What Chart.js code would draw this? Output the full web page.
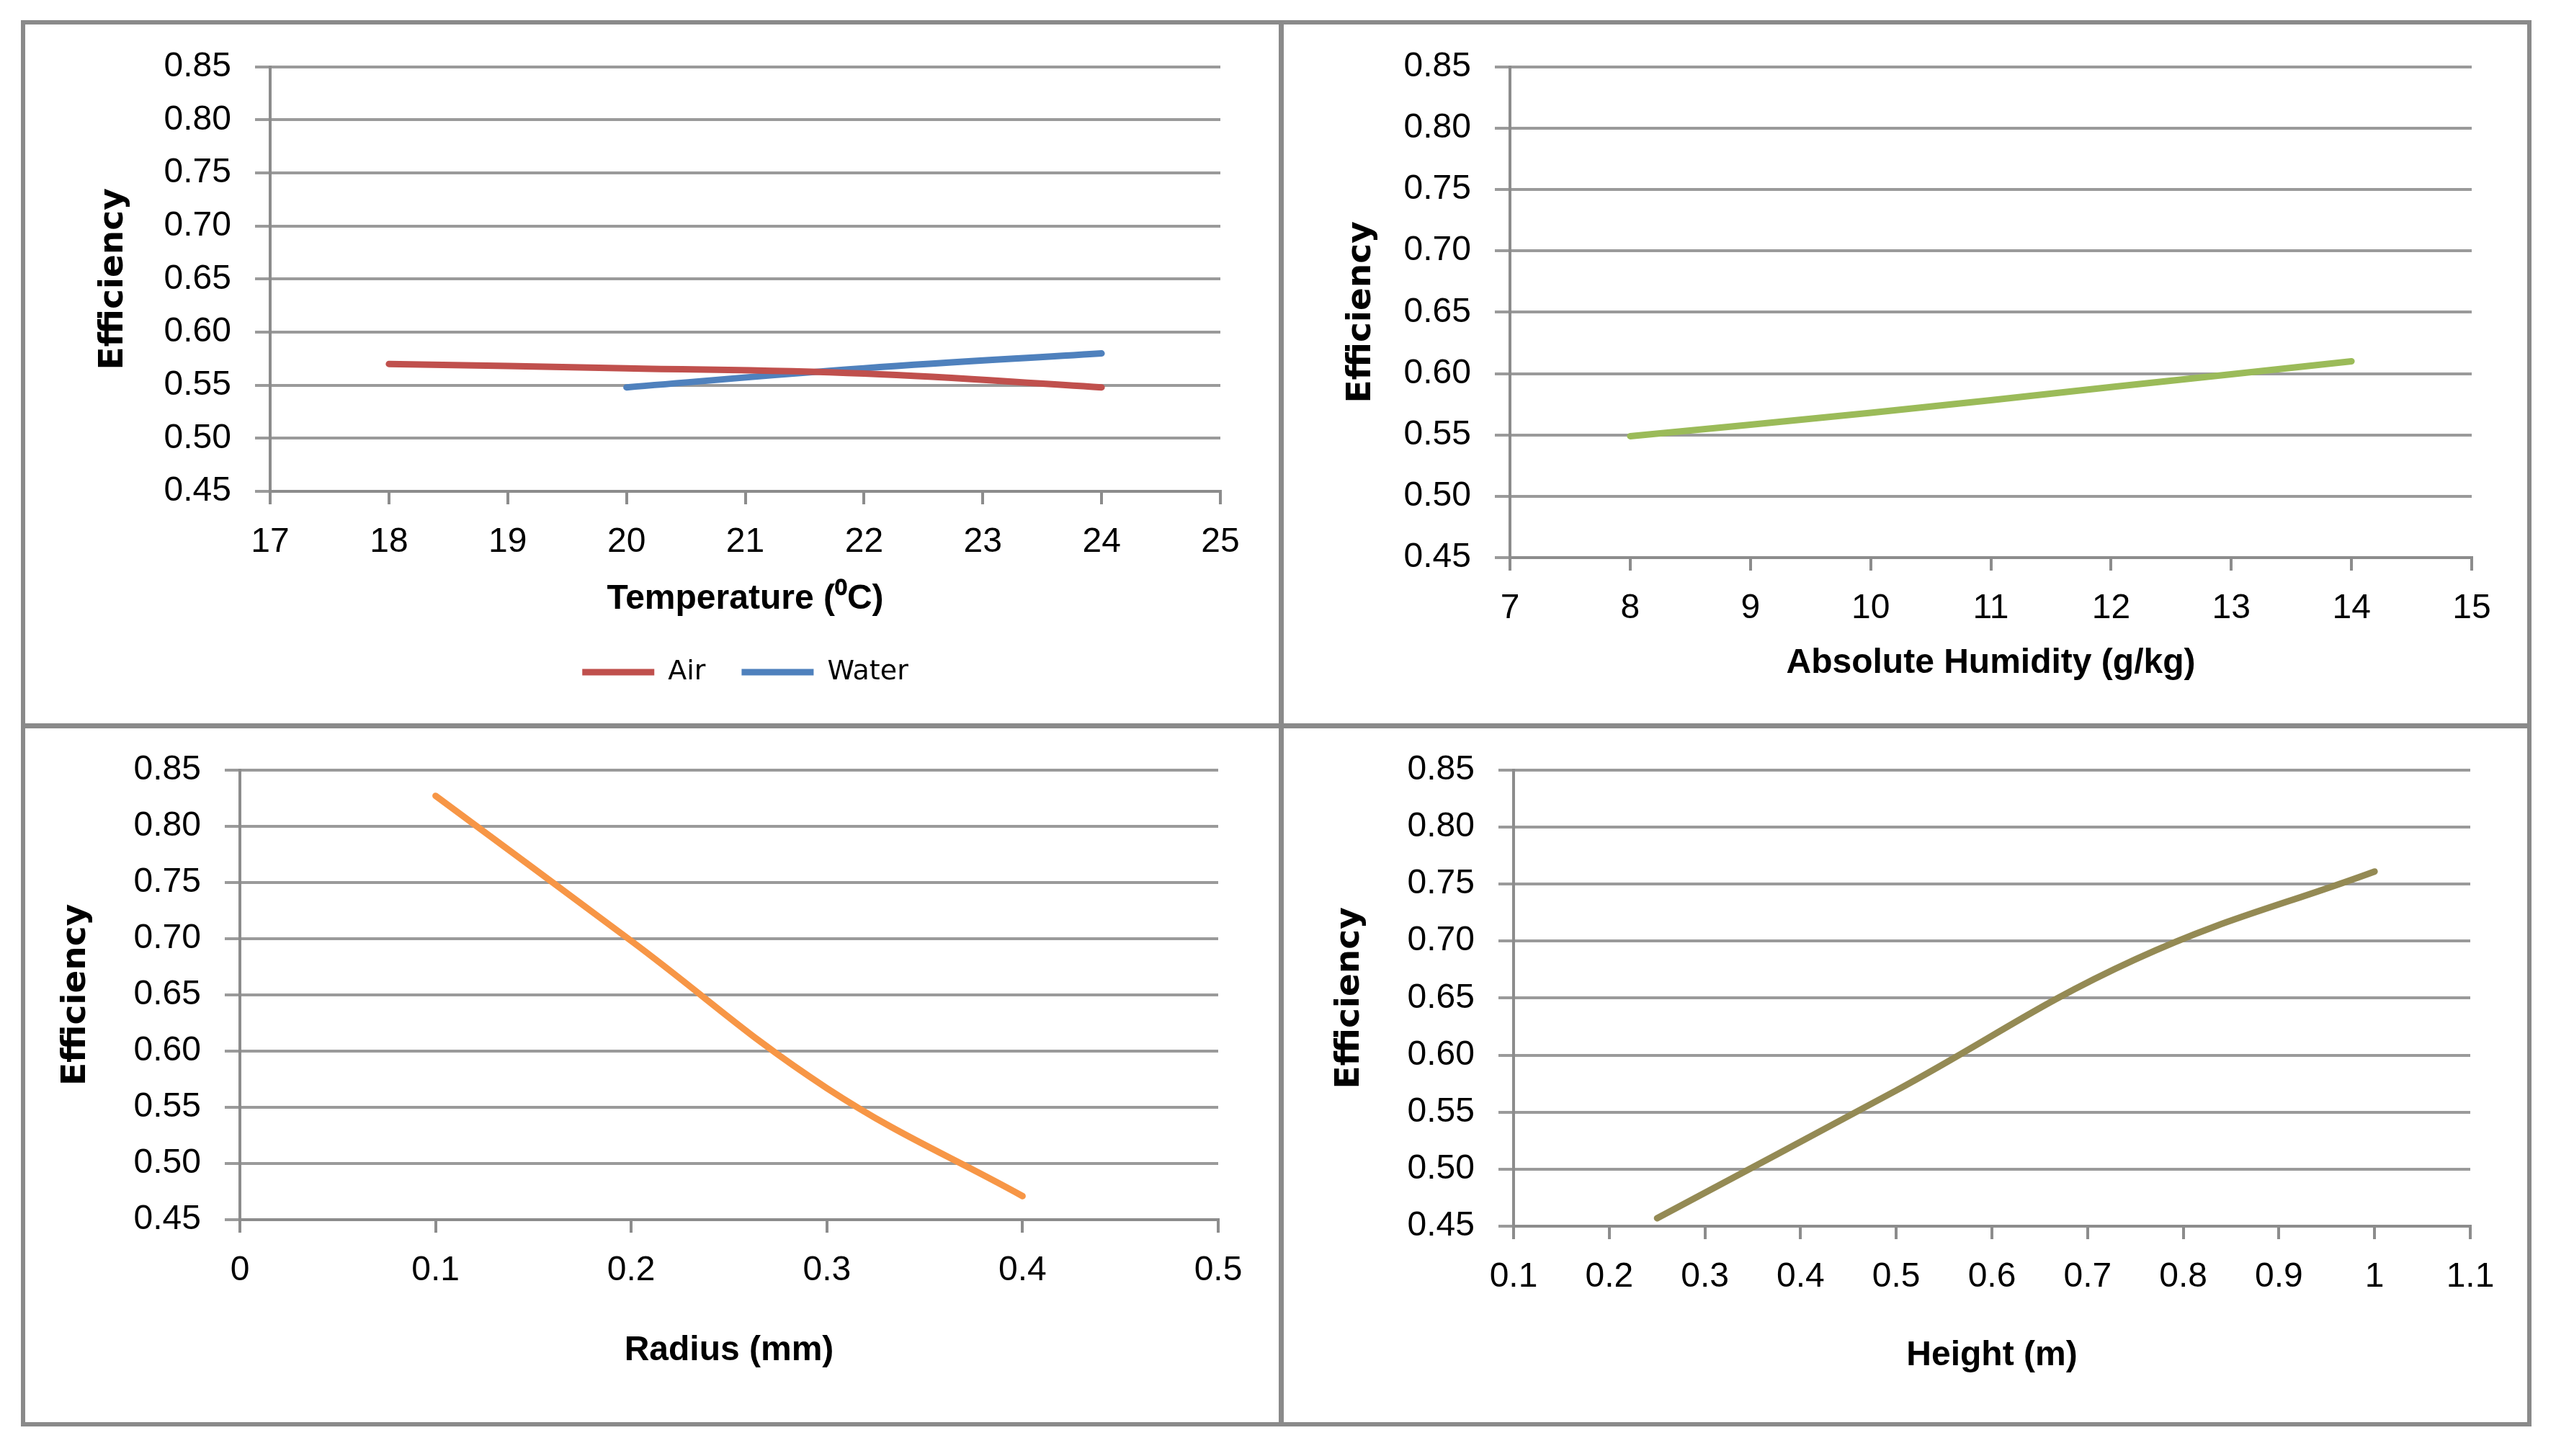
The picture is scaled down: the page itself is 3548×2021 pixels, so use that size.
<!DOCTYPE html>
<html>
<head>
<meta charset="utf-8">
<script src="https://cdn.jsdelivr.net/npm/chart.js@4.4.1/dist/chart.umd.min.js"></script>
<style>
  html, body { margin: 0; padding: 0; background: #fff; }
  #page { position: relative; width: 3548px; height: 2021px; overflow: hidden; background: #fff; }
  canvas { position: absolute; }
  .frame { position: absolute; border: 6px solid #8a8a8a; box-sizing: border-box; }
  .line { position: absolute; background: #8a8a8a; }
</style>
</head>
<body>
<div id="page">
  <canvas id="tempChart"></canvas>
  <canvas id="humChart"></canvas>
  <canvas id="radiusChart"></canvas>
  <canvas id="heightChart"></canvas>
  <div class="frame" style="left:29px; top:28px; width:3485px; height:1952px;"></div>
  <div class="line" style="left:1775px; top:28px; width:7px; height:1952px;"></div>
  <div class="line" style="left:29px; top:1004px; width:3485px; height:7px;"></div>
</div>
<script>
// Temperature panel
const airTemp = [18, 20, 22, 24];
const airEff = [0.570, 0.566, 0.561, 0.548];
const waterTemp = [20, 22, 24];
const waterEff = [0.548, 0.566, 0.580];

// Humidity panel
const humidity = [8, 10, 12, 14];
const humidityEff = [0.549, 0.568, 0.589, 0.610];

// Radius panel
const radius = [0.1, 0.2, 0.3, 0.4];
const radiusEff = [0.827, 0.698, 0.567, 0.471];

// Height panel
const heights = [0.25, 0.5, 0.75, 1.0];
const heightEff = [0.457, 0.569, 0.684, 0.761];

// Tick values
const effTicks = [0.45, 0.50, 0.55, 0.60, 0.65, 0.70, 0.75, 0.80, 0.85];
const tempTicks = [17, 18, 19, 20, 21, 22, 23, 24, 25];
const humTicks = [7, 8, 9, 10, 11, 12, 13, 14, 15];
const radiusTicks = [0, 0.1, 0.2, 0.3, 0.4, 0.5];
const heightTicks = [0.1, 0.2, 0.3, 0.4, 0.5, 0.6, 0.7, 0.8, 0.9, 1, 1.1];

const GRID = '#9a9a9a';
const AXIS = '#8c8c8c';
const TICK_FONT = { family: 'Liberation Sans', size: 48 };
const XTITLE_FONT = { family: 'Liberation Sans', size: 48, weight: 'bold', lineHeight: 1.2 };
const YTITLE_FONT = { family: 'DejaVu Sans', size: 47, weight: 'bold', lineHeight: 1.2 };
const LEGEND_SIZE = 38;
const LEGEND_PAD = 50;

function pts(xs, ys) {
  return xs.map((x, i) => ({ x: x, y: ys[i] }));
}

function line(label, xs, ys, color) {
  return {
    label: label,
    data: pts(xs, ys),
    borderColor: color,
    backgroundColor: color,
    borderWidth: 9,
    borderCapStyle: 'round',
    pointRadius: 0,
    tension: 0.4,
    fill: false
  };
}

function makeChart(id, box, plot, o) {
  const cv = document.getElementById(id);
  cv.width = box.x1 - box.x0;
  cv.height = box.y1 - box.y0;
  cv.style.left = box.x0 + 'px';
  cv.style.top = box.y0 + 'px';

  let axisBottom = box.y1;
  let padBottom = 0;
  if (o.legendY) {
    axisBottom = o.legendY - LEGEND_SIZE / 2 - LEGEND_PAD;
    padBottom = box.y1 - (o.legendY + LEGEND_SIZE / 2 + 10);
  }
  const xLh = XTITLE_FONT.size * XTITLE_FONT.lineHeight;
  const yLh = YTITLE_FONT.size * YTITLE_FONT.lineHeight;

  return new Chart(cv.getContext('2d'), {
    type: 'line',
    data: { datasets: o.datasets },
    options: {
      responsive: false,
      animation: false,
      devicePixelRatio: 1,
      layout: {
        padding: { left: 0, top: plot.y0 - box.y0, right: box.x1 - plot.x1, bottom: padBottom }
      },
      scales: {
        x: {
          type: 'linear',
          min: o.xTicks[0],
          max: o.xTicks[o.xTicks.length - 1],
          afterBuildTicks: axis => { axis.ticks = o.xTicks.map(v => ({ value: v })); },
          afterFit: axis => { axis.height = axisBottom - plot.y1; },
          grid: { drawOnChartArea: false, color: AXIS, lineWidth: 4, tickLength: 18 },
          border: { color: AXIS, width: 4 },
          ticks: { font: TICK_FONT, color: '#000', padding: 24, maxRotation: 0, autoSkip: false,
                   callback: v => String(v) },
          title: { display: true, text: o.xTitle, font: XTITLE_FONT, color: '#000',
                   padding: { top: 0, bottom: axisBottom - o.xTitleY - xLh / 2 } }
        },
        y: {
          min: effTicks[0],
          max: effTicks[effTicks.length - 1],
          afterBuildTicks: axis => { axis.ticks = effTicks.map(v => ({ value: v })); },
          afterFit: axis => { axis.width = plot.x0 - box.x0; },
          grid: { color: GRID, lineWidth: 4, tickLength: 21 },
          border: { color: AXIS, width: 4 },
          ticks: { font: TICK_FONT, color: '#000', padding: 33, callback: v => v.toFixed(2) },
          title: { display: true, text: 'Efficiency', font: YTITLE_FONT, color: '#000',
                   padding: { top: o.yTitleX - box.x0 - yLh / 2, bottom: 0 } }
        }
      },
      plugins: {
        tooltip: { enabled: false },
        legend: {
          display: !!o.legendY,
          position: 'bottom',
          fullSize: false,
          labels: {
            font: { family: 'DejaVu Sans', size: LEGEND_SIZE },
            color: '#000',
            usePointStyle: true,
            pointStyle: 'line',
            pointStyleWidth: 100,
            padding: LEGEND_PAD
          }
        }
      }
    }
  });
}

makeChart('tempChart',
  { x0: 32, y0: 31, x1: 1778, y1: 1007 },
  { x0: 375, y0: 87, x1: 1694, y1: 682 },
  {
    datasets: [line('Air', airTemp, airEff, '#C0504D'), line('Water', waterTemp, waterEff, '#4F81BD')],
    xTicks: tempTicks, xTitle: 'Temperature (\u2070C)', xTitleY: 832, yTitleX: 158, legendY: 933
  });

makeChart('humChart',
  { x0: 1778, y0: 31, x1: 3511, y1: 1007 },
  { x0: 2096, y0: 84, x1: 3431, y1: 774 },
  {
    datasets: [line('Efficiency', humidity, humidityEff, '#9BBB59')],
    xTicks: humTicks, xTitle: 'Absolute Humidity (g/kg)', xTitleY: 921, yTitleX: 1890
  });

makeChart('radiusChart',
  { x0: 32, y0: 1007, x1: 1778, y1: 1977 },
  { x0: 333, y0: 1064, x1: 1691, y1: 1693 },
  {
    datasets: [line('Efficiency', radius, radiusEff, '#F79646')],
    xTicks: radiusTicks, xTitle: 'Radius (mm)', xTitleY: 1875, yTitleX: 106
  });

makeChart('heightChart',
  { x0: 1778, y0: 1007, x1: 3511, y1: 1977 },
  { x0: 2101, y0: 1060, x1: 3429, y1: 1702 },
  {
    datasets: [line('Efficiency', heights, heightEff, '#948A54')],
    xTicks: heightTicks, xTitle: 'Height (m)', xTitleY: 1882, yTitleX: 1874
  });
</script>
</body>
</html>
